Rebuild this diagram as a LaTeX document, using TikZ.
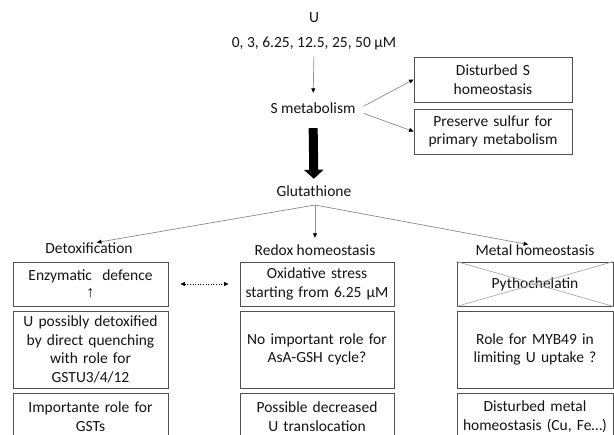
\documentclass[tikz,border=0pt]{standalone}
\usepackage{fontspec}
\setmainfont{Carlito}
\newfontfamily\symfont{Liberation Sans}
\usetikzlibrary{arrows.meta}
\definecolor{txt}{RGB}{20,20,20}
\definecolor{ln}{RGB}{140,140,140}
\definecolor{bx}{RGB}{80,80,80}
\definecolor{xl}{RGB}{170,170,170}
\tikzset{
  lbl/.style={font=\fontsize{15.5}{18.7}\selectfont, text=txt, inner sep=0pt, text height=10pt, text depth=3pt, anchor=base},
  bbox/.style={draw=bx, line width=0.9pt, font=\fontsize{15.5}{18.7}\selectfont, text=txt, align=center, inner sep=2pt, text width=#1-4pt, minimum width=#1},
  conn/.style={draw=ln, line width=0.7pt, -{Triangle[length=4.5pt,width=4pt,color=black]}},
  big/.style={draw=black, line width=9pt, -{Triangle[length=9pt,width=19pt]}},
  dotarrow/.style={draw=black, line width=0.6pt, dotted, {Triangle[length=4.5pt,width=4pt]}-{Triangle[length=4.5pt,width=4pt]}},
  xline/.style={draw=xl, line width=0.7pt}
}
\begin{document}
\begin{tikzpicture}[x=1pt,y=-1pt]
\fill[white] (0,0) rectangle (614,435);
\clip (0,0) rectangle (614,435);
% top text
\node[lbl] (u) at (314,23) {U};
\node[lbl] (conc) at (314,48) {0, 3, 6.25, 12.5, 25, 50 µM};
\node[lbl] (smet) at (313,114) {S metabolism};
\node[lbl] (glut) at (314,197) {Glutathione};
\coordinate (gs) at (315,205);
% right boxes
\node[bbox=158pt, minimum height=45pt] (b1) at (493,79.5) {Disturbed S\\homeostasis};
\node[bbox=158pt, minimum height=45pt] (b2) at (493,131.5) {Preserve sulfur for\\primary metabolism};
% column labels
\node[lbl] (detox) at (89,254) {Detoxification};
\node[lbl] (redox) at (315,256) {Redox homeostasis};
\node[lbl] (metal) at (535,256) {Metal homeostasis};
% column boxes
\node[bbox=155pt, minimum height=44pt] (l1) at (90.5,284) {Enzymatic\ \ defence\\[-1pt]{\symfont\fontsize{16}{16}\selectfont ↑}};
\node[bbox=155pt, minimum height=77pt] (l2) at (90.5,349.5) {U possibly detoxified\\by direct quenching\\with role for\\GSTU3/4/12};
\node[bbox=155pt, minimum height=47pt] (l3) at (90.5,416.5) {Importante role for\\GSTs};
\node[bbox=154pt, minimum height=44pt] (m1) at (317,284) {Oxidative stress\\starting from 6.25 µM};
\node[bbox=154pt, minimum height=77pt] (m2) at (317,349.5) {No important role for\\AsA-GSH cycle?};
\node[bbox=154pt, minimum height=47pt] (m3) at (317,416.5) {Possible decreased\\U translocation};
\node[bbox=156pt, minimum height=44pt] (r1) at (535,284) {Pythochelatin};
\node[bbox=156pt, minimum height=77pt] (r2) at (535,349.5) {Role for MYB49 in\\limiting U uptake ?};
\node[bbox=156pt, minimum height=47pt] (r3) at (535,416.5) {Disturbed metal\\homeostasis (Cu, Fe…)};
% cross on Pythochelatin
\draw[xline] (r1.north west) -- (r1.south east);
\draw[xline] (r1.south west) -- (r1.north east);
% connectors
\draw[conn, shorten <=5pt, shorten >=11pt] (conc.south) -- (smet.north);
\draw[conn, shorten <=9pt] (smet.east) -- (b1.west);
\draw[conn, shorten <=9pt] (smet.east) -- (b2.west);
\draw[big, shorten <=11pt, shorten >=8pt] (smet.south) -- (glut.north);
\draw[conn, shorten >=8pt] (gs) -- (detox.north);
\draw[conn, shorten >=8pt] (gs) -- (redox.north);
\draw[conn, shorten >=7pt] (gs) -- (metal.north);
\draw[dotarrow, shorten <=12pt, shorten >=11pt] (l1.east) -- (m1.west);
\end{tikzpicture}
\end{document}
